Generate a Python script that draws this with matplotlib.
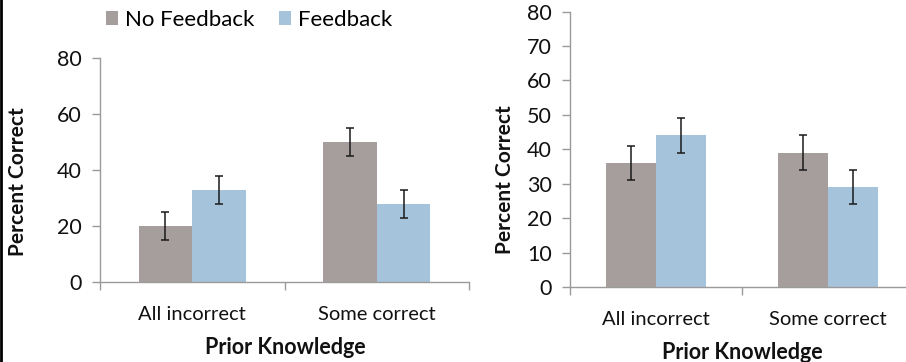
#!/usr/bin/env python3
""" Percent correct by prior knowledge, with and without feedback (two studies).
"""
import numpy as np
import matplotlib
matplotlib.use('Agg')
import matplotlib.pyplot as plt
from matplotlib.lines import Line2D
from matplotlib.patches import Patch

categories = ['All incorrect', 'Some correct']
series_names = ['No Feedback', 'Feedback']

# study 1 (left panel)
left_no_feedback = [20, 50]
left_feedback = [33, 28]
left_err_no_feedback = [5, 5]
left_err_feedback = [5, 5]
left_yticks = [0, 20, 40, 60, 80]

# study 2 (right panel)
right_no_feedback = [36, 39]
right_feedback = [44, 29]
right_err_no_feedback = [5, 5]
right_err_feedback = [5, 5]
right_yticks = [0, 10, 20, 30, 40, 50, 60, 70, 80]

GRAY = '#a69e9d'
BLUE = '#a6c3dc'
AXIS = '#9a9a9a'
TEXT = '#111111'

plt.rcParams['font.family'] = ['Lato', 'DejaVu Sans']


def draw_panel(ax, no_fb, fb, err_no_fb, err_fb, yticks, ylabel_xy, xlabel_xy):
    """Grouped bars with error bars on one axes."""
    x = np.arange(len(categories))
    w = 0.29
    ax.bar(x - w / 2, no_fb, width=w, color=GRAY, zorder=2)
    ax.bar(x + w / 2, fb, width=w, color=BLUE, zorder=2)
    ax.errorbar(x - w / 2, no_fb, yerr=err_no_fb, fmt='none', ecolor='#1a1a1a',
                elinewidth=1.1, capsize=3, capthick=1.1, zorder=3)
    ax.errorbar(x + w / 2, fb, yerr=err_fb, fmt='none', ecolor='#1a1a1a',
                elinewidth=1.1, capsize=3, capthick=1.1, zorder=3)

    ax.set_xlim(-0.5, len(categories) - 0.5)
    ax.set_ylim(0, 80)
    ax.set_yticks(yticks)
    ax.set_xticks(x)
    ax.set_xticklabels(categories, fontsize=14.5, color=TEXT)
    ax.set_xticks(np.arange(len(categories) + 1) - 0.5, minor=True)
    ax.tick_params(axis='x', which='major', length=0, pad=17)
    ax.tick_params(axis='x', which='minor', length=6, width=1, color=AXIS, direction='out')
    ax.tick_params(axis='y', length=6, width=1, color=AXIS, direction='out',
                   labelsize=15.5, labelcolor=TEXT, pad=7)

    for side in ('top', 'right'):
        ax.spines[side].set_visible(False)
    for side in ('left', 'bottom'):
        ax.spines[side].set_color(AXIS)
        ax.spines[side].set_linewidth(1)

    ax.set_ylabel('Percent Correct', fontsize=15, fontweight='bold', color=TEXT)
    ax.yaxis.set_label_coords(*ylabel_xy)
    ax.set_xlabel('Prior Knowledge', fontsize=15.5, fontweight='bold', color=TEXT)
    ax.xaxis.set_label_coords(*xlabel_xy)


fig = plt.figure(figsize=(9.06, 3.62), dpi=100)

ax1 = fig.add_axes([100 / 906, 1 - 282 / 362, 369 / 906, 224 / 362])
draw_panel(ax1, left_no_feedback, left_feedback, left_err_no_feedback,
           left_err_feedback, left_yticks, (-0.195, 0.449), (0.501, -0.245))

ax2 = fig.add_axes([570 / 906, 1 - 287 / 362, 344 / 906, 275.5 / 362])
draw_panel(ax2, right_no_feedback, right_feedback, right_err_no_feedback,
           right_err_feedback, right_yticks, (-0.160, 0.388), (0.5, -0.198))

handles = [Patch(facecolor=GRAY), Patch(facecolor=BLUE)]
fig.legend(handles, series_names, loc='center left', bbox_to_anchor=(106 / 906, 1 - 20 / 362),
           ncol=2, frameon=False, fontsize=16, borderpad=0, borderaxespad=0,
           handlelength=0.55, handleheight=0.55, handletextpad=0.3, columnspacing=1.1)

# frame edge along the left side
fig.add_artist(Line2D([1 / 906, 1 / 906], [0, 1], color='black', lw=2,
                      transform=fig.transFigure))

fig.savefig('out.png', dpi=100)
